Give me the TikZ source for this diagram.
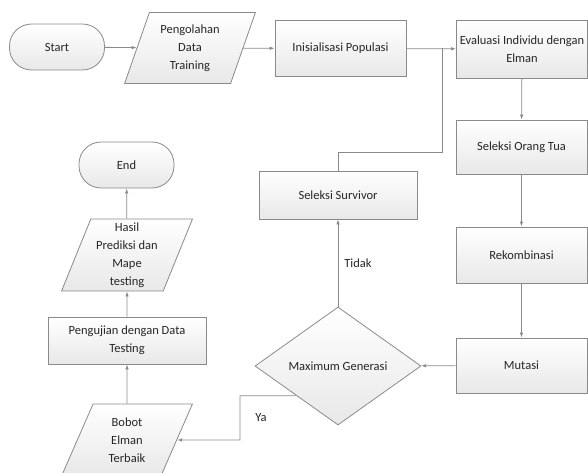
\documentclass[tikz,border=0pt]{standalone}
\usepackage{fontspec}
\setmainfont{Carlito}
\usetikzlibrary{shapes.geometric,arrows.meta}
\definecolor{txt}{HTML}{262626}
\definecolor{edge}{HTML}{8A8A8A}
\tikzset{
  base/.style={draw=edge, line width=0.8pt, top color=white, bottom color=gray!18,
    text=txt, font=\fontsize{12.5}{18}\selectfont, align=center, inner sep=1pt},
  proc/.style={base, rectangle, minimum width=131pt, minimum height=55pt},
  term/.style={base, rectangle, rounded corners=22pt, minimum width=95pt, minimum height=46pt},
  io/.style={base, trapezium, trapezium left angle=69, trapezium right angle=111,
    trapezium stretches=true, minimum width=131pt, minimum height=71pt},
  decide/.style={base, diamond, aspect=1.4, minimum width=166pt, minimum height=118pt, inner sep=0pt},
  conn/.style={draw=edge, line width=0.8pt},
  arr/.style={conn, -{Latex[length=5pt,width=3.5pt]}},
  lbl/.style={text=txt, font=\fontsize{12.5}{15}\selectfont, inner sep=0pt}
}
\begin{document}
\begin{tikzpicture}[x=1pt,y=-1pt]
\clip (0,0) rectangle (588,473);
\useasboundingbox (0,0) rectangle (588,473);

\node[term] (start) at (57,47) {Start};
\node[io] (peng) at (190,48) {Pengolahan\\Data\\Training};
\node[proc, minimum height=56pt] (init) at (340.5,48.5) {Inisialisasi Populasi};
\node[proc, minimum height=58pt] (eval) at (522,49) {Evaluasi Individu dengan\\Elman};
\node[proc, minimum height=54pt] (ortu) at (521.5,147) {Seleksi Orang Tua};
\node[proc, minimum height=56pt] (rekom) at (521.5,255) {Rekombinasi};
\node[proc, minimum height=55pt] (mutasi) at (521.5,365.5) {Mutasi};
\node[decide] (dia) at (338,366) {Maximum Generasi};
\node[proc, minimum width=158pt, minimum height=48pt] (surv) at (338,195) {Seleksi Survivor};
\node[term] (end) at (126.5,165) {End};
\node[io, minimum height=72pt] (hasil) at (127,255) {Hasil\\Prediksi dan\\Mape\\testing};
\node[proc, minimum width=158pt, minimum height=47pt] (uji) at (127,340.5) {Pengujian dengan Data\\Testing};
\node[io, minimum height=72pt] (bobot) at (127,440) {Bobot\\Elman\\Terbaik};

\coordinate (j) at (442,48.5);
\coordinate (k) at (442,152);
\coordinate (c1) at (240,440);

\draw[arr] (start) -- (peng);
\draw[arr] (peng) -- (init);
\draw[arr] (init) -- (eval);
\draw[conn] (surv.north) |- (k) -- (j);
\draw[arr] (eval) -- (ortu);
\draw[arr] (ortu) -- (rekom);
\draw[arr] (rekom) -- (mutasi);
\draw[arr] (mutasi) -- (dia);
\draw[arr] (dia) -- (surv) node[lbl, pos=0.5, right=6pt] {Tidak};
\draw[arr] (dia.south west) -| (c1) -- (bobot);
\node[lbl] (ya) at (261,418) {Ya};
\draw[arr] (bobot) -- (uji);
\draw[arr] (uji) -- (hasil);
\draw[arr] (hasil) -- (end);
\end{tikzpicture}
\end{document}
